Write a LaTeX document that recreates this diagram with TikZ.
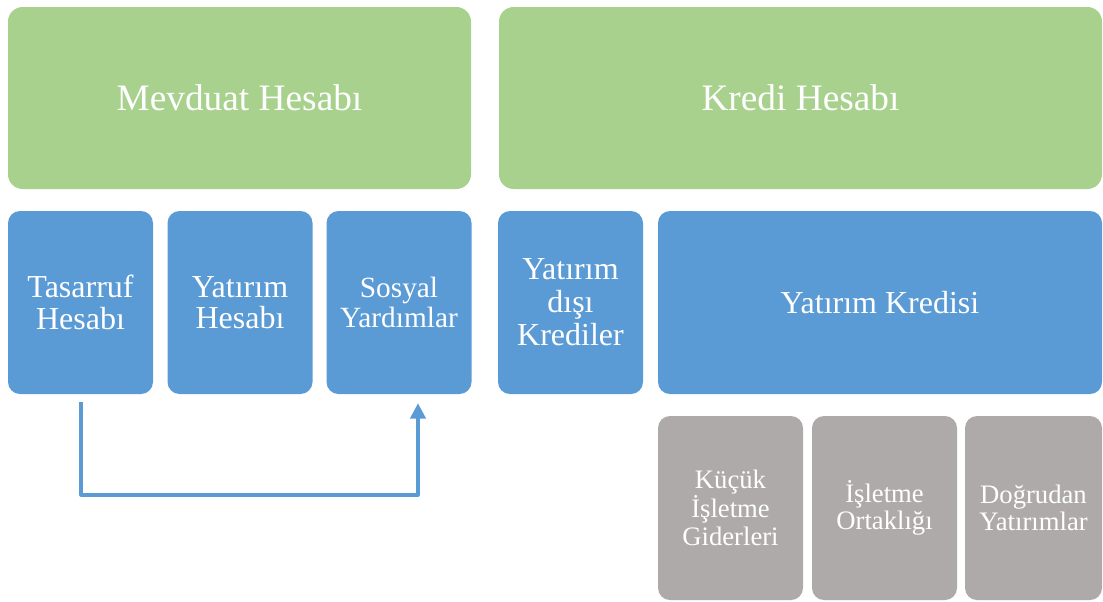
\documentclass[tikz,border=0pt]{standalone}
\usepackage{fontspec}
\setmainfont{Liberation Serif}
\usetikzlibrary{arrows.meta}
\definecolor{cgreen}{HTML}{A9D18E}
\definecolor{cblue}{HTML}{5B9BD5}
\definecolor{cgray}{HTML}{AEAAAA}
\tikzset{
  box/.style={rectangle, inner sep=0pt, text=white, align=center},
  topbox/.style={box, fill=cgreen, rounded corners=11pt, minimum width=347.25pt, minimum height=136.5pt, font=\fontsize{28}{30}\selectfont},
  midbox/.style={box, fill=cblue, rounded corners=9pt, minimum width=108.75pt, minimum height=137.25pt, font=\fontsize{24}{23.5}\selectfont},
  lowbox/.style={box, fill=cgray, rounded corners=9pt, minimum width=108.75pt, minimum height=138pt, font=\fontsize{20}{20.6}\selectfont},
  flow/.style={draw=cblue, line width=2.5pt, line join=round, -{Triangle[width=11.5pt,length=11.5pt]}}
}
\begin{document}
\begin{tikzpicture}[x=0.75pt,y=-0.75pt]
\useasboundingbox (0,0) rectangle (1103,601);
% top row
\node[topbox] (M) at (239.5,98) {Mevduat Hesabı};
\node[topbox, minimum width=452.25pt] (K) at (800.5,98) {Kredi Hesabı};
% middle row
\node[midbox] (T) at (80.5,302.5) {Tasarruf\\Hesabı};
\node[midbox] (Y) at (240,302.5) {Yatırım\\Hesabı};
\node[midbox, font=\fontsize{22}{22.5}\selectfont] (S) at (399,302.5) {Sosyal\\Yardımlar};
\node[midbox, font=\fontsize{24}{24.75}\selectfont] (D) at (570.5,302.5) {Yatırım\\dışı\\Krediler};
\node[midbox, minimum width=333pt] (YK) at (880,302.5) {Yatırım Kredisi};
% bottom row
\node[lowbox] (G1) at (730.5,508) {Küçük\\İşletme\\Giderleri};
\node[lowbox] (G2) at (884.5,508) {İşletme\\Ortaklığı};
\node[lowbox, minimum width=102.75pt] (G3) at (1033.5,508) {Doğrudan\\Yatırımlar};
% connector
\draw[flow] ([xshift=0.4pt,yshift=-6pt]T.south) -- ([xshift=0.4pt,yshift=-75.5pt]T.south) -| ([xshift=14.25pt,yshift=-6.75pt]S.south);
\end{tikzpicture}
\end{document}
